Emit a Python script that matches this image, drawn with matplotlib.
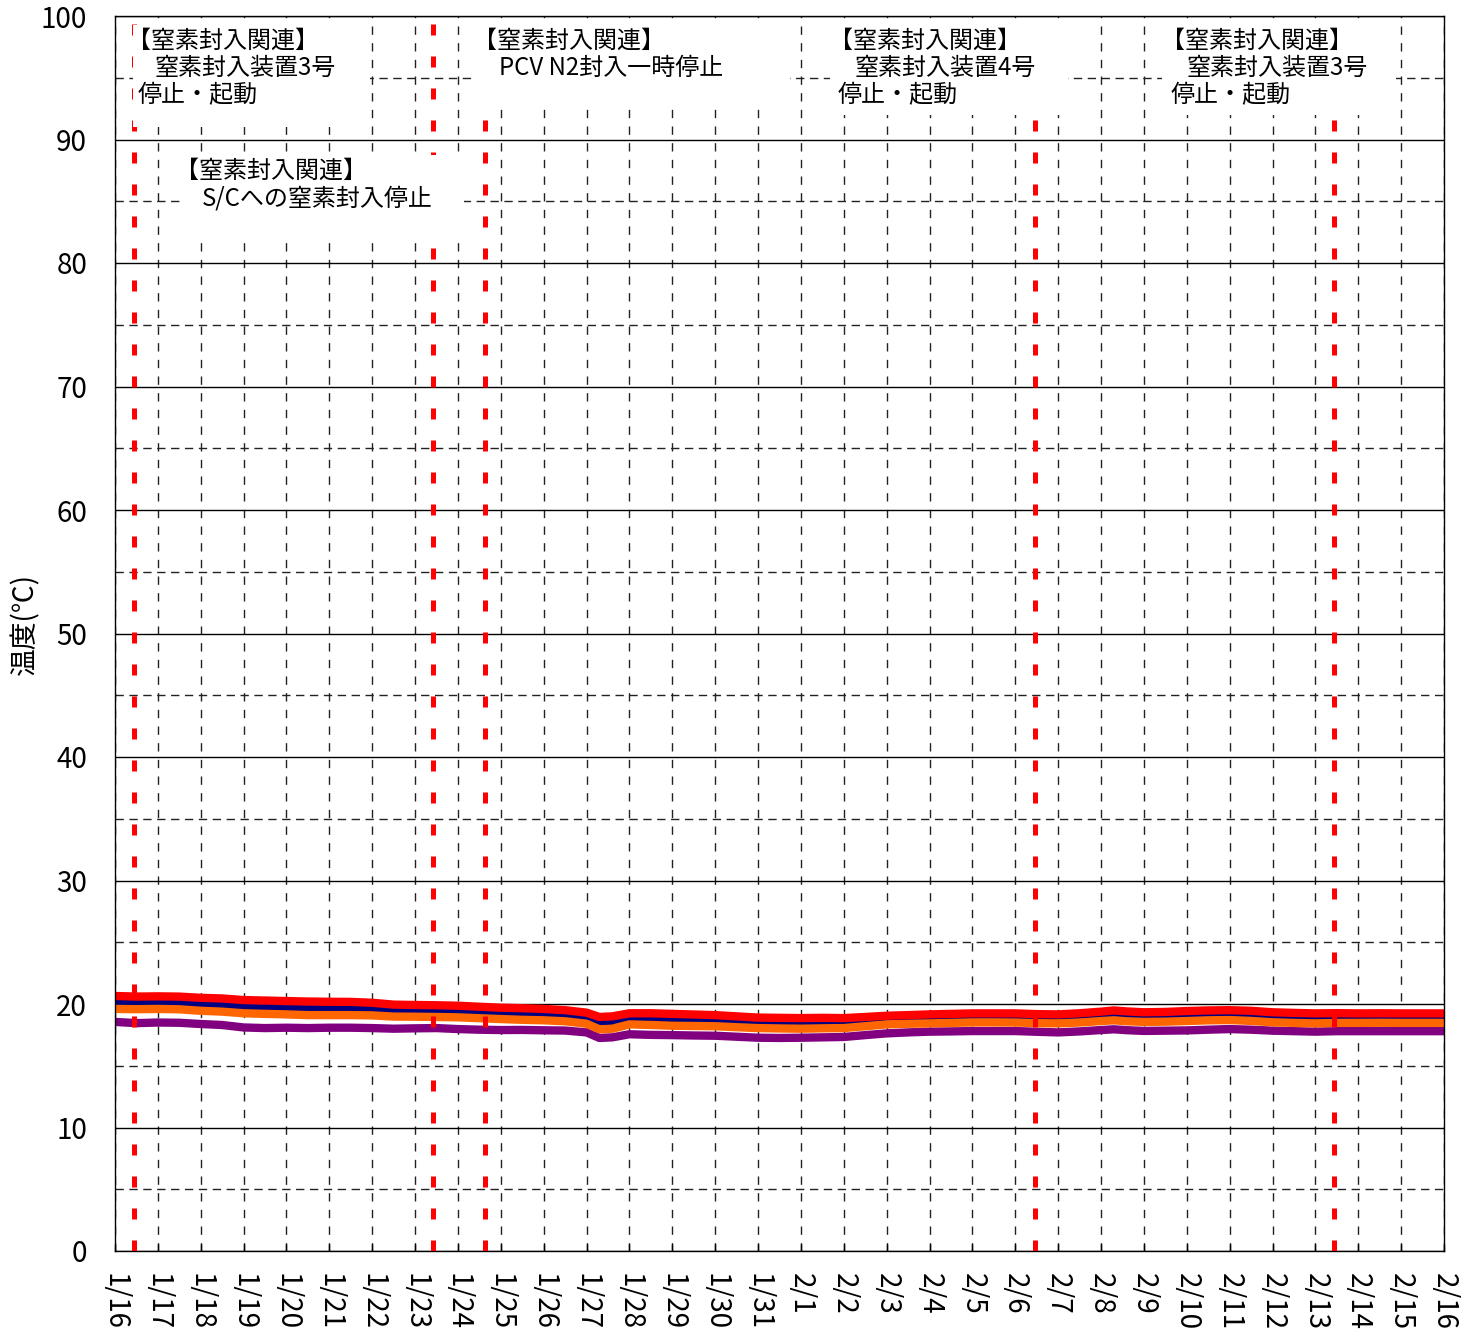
import matplotlib
matplotlib.use("Agg")
import matplotlib.pyplot as plt
from matplotlib.patches import Rectangle

plt.rcParams['font.family'] = ['Noto Sans CJK JP', 'DejaVu Sans']

# ---------------- data ----------------
days = [0, 0.5, 1, 1.5, 2, 2.5, 3, 3.5, 4, 4.5, 5, 5.5, 6, 6.5, 7, 7.5, 8, 8.5,
        9, 9.5, 10, 10.5, 11, 11.3, 11.6, 12, 12.5, 13, 13.5, 14, 14.5, 15, 15.5,
        16, 16.5, 17, 17.5, 18, 18.5, 19, 19.5, 20, 20.5, 21, 21.5, 22, 22.5, 23,
        23.3, 23.6, 24, 24.5, 25, 25.5, 26, 26.5, 27, 27.5, 28, 28.5, 29, 29.5,
        30, 30.5, 31]

red = [20.65, 20.6, 20.62, 20.6, 20.5, 20.45, 20.32, 20.28, 20.24, 20.2, 20.18,
       20.17, 20.1, 19.95, 19.92, 19.9, 19.86, 19.78, 19.7, 19.66, 19.6, 19.5,
       19.3, 18.95, 19.0, 19.25, 19.25, 19.2, 19.15, 19.1, 19.0, 18.9, 18.88,
       18.86, 18.88, 18.86, 18.95, 19.05, 19.1, 19.16, 19.2, 19.24, 19.24, 19.24,
       19.18, 19.16, 19.25, 19.38, 19.48, 19.4, 19.33, 19.36, 19.43, 19.48, 19.5,
       19.45, 19.33, 19.28, 19.24, 19.26, 19.24, 19.25, 19.24, 19.24, 19.24]

green = [20.2, 20.18, 20.2, 20.15, 20.08, 20.0, 19.85, 19.8, 19.75, 19.72, 19.7,
         19.7, 19.65, 19.5, 19.5, 19.48, 19.45, 19.38, 19.32, 19.25, 19.18, 19.05,
         18.9, 18.55, 18.6, 18.85, 18.8, 18.75, 18.72, 18.72, 18.6, 18.52, 18.5,
         18.48, 18.5, 18.5, 18.6, 18.72, 18.78, 18.8, 18.85, 18.92, 18.95, 18.97,
         18.92, 18.9, 18.95, 19.05, 19.12, 19.05, 18.98, 19.0, 19.05, 19.12, 19.18,
         19.1, 19.0, 18.95, 18.92, 18.93, 18.92, 18.92, 18.92, 18.92, 18.92]

navy = [20.1, 20.08, 20.1, 20.05, 19.98, 19.9, 19.72, 19.68, 19.65, 19.6, 19.6,
        19.6, 19.55, 19.42, 19.43, 19.4, 19.36, 19.3, 19.24, 19.17, 19.08, 18.98,
        18.8, 18.45, 18.5, 18.72, 18.7, 18.66, 18.64, 18.62, 18.5, 18.43, 18.4,
        18.38, 18.4, 18.42, 18.5, 18.62, 18.67, 18.7, 18.76, 18.84, 18.86, 18.89,
        18.84, 18.82, 18.87, 18.97, 19.03, 18.97, 18.9, 18.92, 18.97, 19.03, 19.1,
        19.02, 18.92, 18.87, 18.84, 18.85, 18.84, 18.84, 18.84, 18.84, 18.84]

orange = [19.6, 19.58, 19.6, 19.57, 19.45, 19.38, 19.25, 19.2, 19.16, 19.1, 19.1,
          19.1, 19.08, 18.98, 18.97, 18.95, 18.92, 18.85, 18.78, 18.72, 18.68, 18.6,
          18.4, 17.95, 18.0, 18.35, 18.3, 18.24, 18.22, 18.2, 18.12, 18.05, 18.02,
          18.0, 18.03, 18.05, 18.2, 18.35, 18.4, 18.43, 18.47, 18.51, 18.51, 18.5,
          18.45, 18.43, 18.5, 18.62, 18.68, 18.6, 18.55, 18.57, 18.62, 18.68, 18.7,
          18.63, 18.52, 18.47, 18.43, 18.47, 18.47, 18.48, 18.47, 18.47, 18.47]

purple = [18.55, 18.45, 18.5, 18.48, 18.38, 18.3, 18.1, 18.05, 18.08, 18.05, 18.08,
          18.08, 18.05, 18.0, 18.03, 18.05, 17.97, 17.92, 17.89, 17.9, 17.87, 17.85,
          17.7, 17.25, 17.3, 17.55, 17.5, 17.48, 17.45, 17.43, 17.35, 17.27, 17.25,
          17.27, 17.3, 17.33, 17.48, 17.62, 17.7, 17.76, 17.78, 17.81, 17.81, 17.81,
          17.75, 17.7, 17.78, 17.89, 17.95, 17.88, 17.82, 17.84, 17.86, 17.92, 17.97,
          17.92, 17.84, 17.8, 17.76, 17.8, 17.8, 17.8, 17.8, 17.8, 17.8]

tick_labels = ['1/16', '1/17', '1/18', '1/19', '1/20', '1/21', '1/22', '1/23',
               '1/24', '1/25', '1/26', '1/27', '1/28', '1/29', '1/30', '1/31',
               '2/1', '2/2', '2/3', '2/4', '2/5', '2/6', '2/7', '2/8', '2/9',
               '2/10', '2/11', '2/12', '2/13', '2/14', '2/15', '2/16']

event_days = [0.44, 7.42, 8.63, 21.46, 28.43]

notes = [
    ['【窒素封入関連】', '窒素封入装置3号', '停止・起動'],
    ['【窒素封入関連】', 'S/Cへの窒素封入停止'],
    ['【窒素封入関連】', 'PCV N2封入一時停止'],
    ['【窒素封入関連】', '窒素封入装置4号', '停止・起動'],
    ['【窒素封入関連】', '窒素封入装置3号', '停止・起動'],
]

# ---------------- figure ----------------
W, H = 1461, 1343
fig = plt.figure(figsize=(W / 100, H / 100), dpi=100)
ax = fig.add_axes([115 / W, 1 - 1251 / H, (1444 - 115) / W, (1251 - 16) / H])

series = [(green, '#008000'), (navy, '#000080'), (purple, '#800080'),
          (orange, '#FF6600'), (red, '#FF0000')]
for vals, col in series:
    ax.plot(days, vals, color=col, lw=6, solid_capstyle='butt', zorder=2)

for d in event_days:
    ax.axvline(d, color='#FF0000', lw=3.6, ls=(0, (2.2, 4.2)), zorder=3)

ax.set_xlim(0, 31)
ax.set_ylim(0, 100)
ax.set_xticks(range(len(tick_labels)))
ax.set_xticklabels(tick_labels, rotation=-90, fontsize=20)
ax.set_yticks(range(0, 101, 10))
ax.set_yticks(range(5, 100, 10), minor=True)
ax.tick_params(axis='y', which='major', labelsize=20, length=0, pad=20)
ax.tick_params(axis='y', which='minor', length=0)
ax.tick_params(axis='x', which='major', direction='in', length=5, pad=16, width=1)
for lab in ax.get_xticklabels():
    lab.set_va('top')
    lab.set_ha('center')

ax.set_axisbelow(True)
ax.grid(axis='y', which='major', color='black', lw=1, ls='-')
ax.grid(axis='y', which='minor', color='#222222', lw=1, ls=(0, (6, 4)))
ax.grid(axis='x', which='major', color='#222222', lw=1, ls=(0, (6, 6)))
for sp in ax.spines.values():
    sp.set_color('black')
    sp.set_linewidth(1)

fig.text(25 / W, 1 - 624 / H, '温度(℃)', rotation=90, ha='center', va='center',
         fontsize=20)

# ---------------- annotation boxes ----------------
def fx(px):
    return px / W

def fy(py):
    return 1 - py / H

boxes = [(133, 25, 370, 127), (180, 155, 464, 242), (474, 22, 790, 105),
         (830, 22, 1068, 115), (1162, 22, 1396, 115)]
line_pos = [
    [(127, 41), (155, 68), (138, 95)],
    [(175, 171), (202, 198)],
    [(473, 41), (499, 68)],
    [(829, 41), (855, 68), (838, 95)],
    [(1161, 41), (1187, 68), (1171, 95)],
]
for (x0, y0, x1, y1), lines, poss in zip(boxes, notes, line_pos):
    ax.add_patch(Rectangle((fx(x0), fy(y1)), fx(x1) - fx(x0), fy(y0) - fy(y1),
                           transform=fig.transFigure, facecolor='white',
                           edgecolor='none', zorder=4, clip_on=False))
    for txt, (px, py) in zip(lines, poss):
        ax.text(fx(px), fy(py), txt, transform=fig.transFigure, ha='left',
                va='center', fontsize=17.3, zorder=5, color='black')

fig.savefig('out.png', dpi=100)
